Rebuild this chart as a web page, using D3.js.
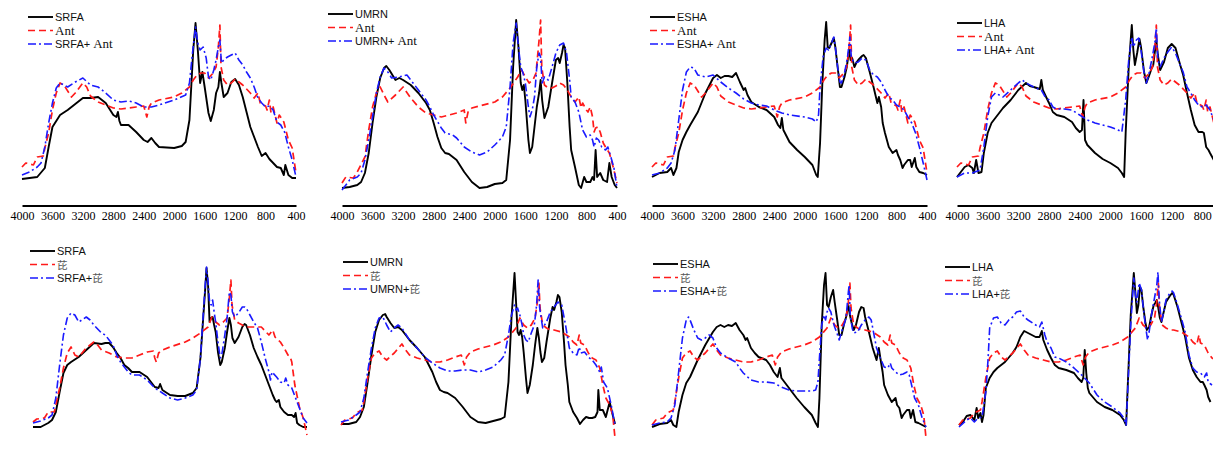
<!DOCTYPE html>
<html><head><meta charset="utf-8">
<script src="https://cdn.jsdelivr.net/npm/d3@7"></script>
<style>html,body{margin:0;padding:0;background:#fff;overflow:hidden}</style>
</head><body>
<svg id="c" width="1213" height="452"></svg>
<script>
// ---------------- DATA (wavenumber cm-1, absorbance a.u.) ----------------
const tickLabels = [4000,3600,3200,2800,2400,2000,1600,1200,800,400];

// top row: humic substance, Ant, humic + Ant
const srfaTop = [[4000,6],[3800,8],[3700,17],[3650,38],[3600,58],[3500,70],[3400,75],[3300,81],[3200,87],[3100,87],[3000,88],[2900,82],[2800,70],[2760,68],[2740,73],[2720,64],[2700,60],[2600,60],[2500,53],[2400,45],[2350,43],[2300,47],[2250,42],[2200,38],[2000,37],[1900,39],[1850,43],[1800,65],[1750,135],[1720,162],[1690,135],[1660,102],[1630,113],[1600,98],[1550,72],[1520,64],[1480,75],[1450,92],[1420,98],[1400,113],[1380,102],[1350,88],[1300,92],[1250,103],[1200,106],[1150,100],[1100,88],[1050,73],[1000,58],[900,38],[850,29],[800,32],[750,26],[700,22],[650,18],[600,17],[560,10],[540,20],[500,10],[450,7],[400,7]];
const antTop = [[4000,18],[3950,22],[3850,20],[3800,28],[3720,29],[3700,37],[3650,52],[3600,75],[3550,92],[3500,102],[3450,100],[3350,88],[3300,92],[3200,102],[3150,98],[3100,89],[3000,83],[2900,80],[2800,77],[2700,76],[2500,78],[2400,79],[2360,68],[2330,78],[2300,82],[2200,85],[2000,88],[1900,92],[1800,98],[1750,105],[1700,110],[1650,112],[1600,112],[1550,107],[1500,111],[1450,118],[1420,138],[1400,160],[1385,118],[1350,105],[1300,100],[1250,102],[1200,106],[1150,103],[1100,100],[1000,92],[950,87],[900,92],[870,82],[800,79],[780,75],[750,85],[730,73],[700,78],[650,62],[620,70],[560,63],[500,45],[450,37],[400,12]];
const srfaAntTop = [[4000,10],[3900,13],[3800,18],[3750,22],[3700,38],[3650,62],[3600,82],[3550,97],[3500,102],[3400,98],[3300,103],[3200,107],[3100,100],[3000,98],[2900,92],[2800,85],[2700,83],[2600,84],[2500,82],[2400,78],[2300,78],[2200,80],[2000,85],[1850,90],[1800,102],[1760,132],[1720,158],[1690,142],[1660,135],[1620,138],[1580,127],[1550,108],[1520,105],[1480,115],[1450,125],[1420,138],[1400,145],[1380,122],[1350,125],[1300,128],[1250,130],[1200,132],[1150,125],[1100,120],[1050,113],[1000,107],[950,98],[900,87],[850,82],[800,78],[750,79],[700,75],[650,63],[600,60],[550,53],[500,38],[450,25],[400,8]];

const umrnTop = [[4000,-3],[3900,-2],[3800,0],[3750,3],[3700,12],[3650,32],[3600,62],[3550,88],[3500,107],[3450,117],[3420,119],[3380,115],[3300,105],[3250,107],[3200,105],[3100,100],[3000,92],[2900,82],[2850,75],[2800,62],[2750,48],[2700,37],[2650,32],[2600,31],[2500,25],[2400,13],[2300,3],[2200,-3],[2100,-2],[2000,1],[1900,2],[1850,5],[1800,45],[1760,118],[1720,165],[1690,138],[1660,102],[1640,95],[1620,100],[1600,85],[1560,45],[1540,32],[1510,38],[1480,58],[1450,78],[1420,92],[1400,105],[1380,85],[1350,67],[1300,78],[1250,102],[1200,125],[1170,127],[1150,122],[1120,132],[1100,140],[1080,137],[1050,102],[1020,58],[1000,35],[950,18],[900,0],[870,-3],[830,8],[800,3],[750,3],[720,8],[700,5],[680,35],[660,8],[620,12],[580,5],[530,3],[500,22],[470,8],[430,0],[400,-3]];
const antTop2 = [[4000,2],[3950,8],[3850,7],[3800,13],[3700,28],[3650,55],[3600,78],[3550,92],[3500,98],[3450,90],[3400,83],[3300,90],[3200,98],[3100,87],[3000,78],[2900,72],[2800,70],[2700,68],[2600,70],[2500,72],[2400,75],[2380,62],[2350,73],[2300,77],[2200,79],[2000,83],[1900,88],[1800,97],[1700,108],[1650,115],[1600,108],[1550,102],[1500,105],[1460,112],[1420,145],[1400,165],[1385,118],[1350,100],[1300,97],[1250,97],[1200,99],[1150,102],[1100,100],[1050,95],[1000,88],[950,83],[900,88],[870,77],[850,82],[800,75],[780,73],[750,78],[720,68],[700,53],[680,57],[650,58],[620,53],[580,42],[550,38],[500,32],[450,18],[400,2]];
const umrnAntTop = [[4000,-5],[3900,5],[3800,8],[3750,12],[3700,25],[3650,45],[3600,68],[3550,92],[3500,108],[3450,117],[3400,113],[3350,107],[3250,108],[3150,110],[3100,105],[3000,95],[2900,85],[2850,78],[2800,70],[2700,57],[2650,52],[2550,50],[2500,47],[2400,38],[2300,33],[2200,30],[2100,33],[2000,40],[1900,48],[1850,58],[1800,98],[1760,142],[1720,162],[1690,138],[1660,118],[1630,112],[1600,102],[1560,78],[1540,68],[1510,75],[1480,88],[1450,118],[1420,132],[1400,128],[1380,102],[1350,108],[1300,105],[1250,118],[1200,132],[1150,140],[1100,142],[1060,132],[1020,105],[1000,88],[950,83],[900,73],[870,62],[850,55],[800,48],[750,50],[720,45],[700,38],[670,47],[640,45],[600,38],[550,35],[520,38],[480,28],[440,17],[400,-3]];

const eshaTop = [[4000,8],[3900,12],[3800,13],[3750,17],[3720,10],[3680,17],[3650,33],[3600,45],[3550,53],[3500,60],[3400,73],[3300,92],[3200,107],[3150,110],[3100,107],[3050,109],[3000,109],[2950,108],[2900,112],[2850,103],[2800,95],[2780,97],[2750,90],[2700,83],[2600,78],[2500,75],[2400,68],[2350,60],[2320,57],[2300,67],[2280,55],[2200,43],[2100,35],[2000,28],[1900,20],[1850,10],[1830,8],[1800,42],[1770,102],[1740,145],[1720,163],[1700,138],[1680,137],[1650,142],[1620,147],[1600,138],[1570,118],[1540,98],[1520,98],[1480,108],[1450,118],[1420,135],[1400,125],[1380,127],[1350,118],[1320,123],[1300,125],[1250,129],[1230,130],[1200,127],[1150,113],[1100,98],[1050,82],[1030,88],[1000,78],[980,62],[950,52],[900,38],[850,32],[800,35],[780,30],[750,25],[720,17],[700,20],[650,25],[620,25],[600,18],[560,27],[540,18],[500,13],[450,12],[400,10]];
const eshaAntTop = [[4000,10],[3900,12],[3800,17],[3750,22],[3700,35],[3650,65],[3600,95],[3550,113],[3500,118],[3450,117],[3400,110],[3300,108],[3200,110],[3100,103],[3000,97],[2900,92],[2800,86],[2700,82],[2600,80],[2500,79],[2400,75],[2300,72],[2200,70],[2000,68],[1900,66],[1850,63],[1820,70],[1800,98],[1760,128],[1720,137],[1690,135],[1650,142],[1620,148],[1600,138],[1570,118],[1540,103],[1520,102],[1480,112],[1440,128],[1410,148],[1390,127],[1350,122],[1300,123],[1250,127],[1200,125],[1150,115],[1100,110],[1050,108],[1000,103],[950,95],[900,88],[850,85],[800,80],[750,78],[700,75],[650,68],[600,62],[550,52],[500,38],[450,22],[400,5]];

const lhaTop = [[4000,8],[3900,18],[3850,20],[3800,17],[3780,12],[3750,25],[3720,12],[3680,13],[3650,32],[3600,52],[3550,62],[3500,67],[3400,77],[3300,85],[3200,95],[3100,102],[3050,99],[3000,98],[2920,96],[2900,105],[2880,95],[2850,90],[2800,82],[2750,73],[2700,70],[2600,68],[2500,63],[2450,57],[2400,53],[2370,55],[2350,85],[2330,45],[2300,40],[2200,32],[2100,26],[2000,22],[1900,17],[1850,12],[1820,8],[1800,52],[1760,118],[1720,160],[1700,135],[1680,120],[1650,132],[1620,146],[1600,138],[1560,113],[1530,102],[1500,108],[1460,117],[1440,120],[1400,145],[1380,130],[1350,115],[1300,123],[1250,137],[1200,141],[1150,137],[1100,123],[1050,110],[1000,92],[950,75],[900,60],[850,53],[800,53],[780,52],[750,38],[720,35],[700,32],[650,25]];
const lhaAntTop = [[4000,8],[3900,12],[3800,12],[3700,15],[3650,38],[3600,68],[3550,88],[3500,92],[3450,90],[3400,88],[3300,95],[3200,102],[3150,105],[3100,102],[3000,98],[2900,95],[2850,88],[2800,85],[2750,78],[2700,76],[2600,76],[2500,75],[2400,70],[2300,65],[2200,62],[2000,58],[1900,55],[1850,53],[1800,85],[1760,125],[1720,148],[1700,138],[1660,145],[1630,147],[1600,135],[1560,112],[1530,102],[1500,110],[1460,125],[1420,142],[1400,157],[1380,125],[1350,118],[1300,127],[1250,133],[1200,138],[1150,132],[1100,122],[1050,113],[1000,98],[950,92],[900,85],[850,80],[800,78],[750,80],[700,75],[650,65]];

// bottom row: humic substance, 芘 (pyrene), humic + 芘
const srfaBot = [[4000,5],[3900,5],[3800,9],[3750,12],[3700,20],[3650,40],[3600,59],[3550,67],[3500,70],[3400,75],[3300,82],[3200,89],[3100,88],[3050,89],[3000,89],[2950,85],[2900,79],[2850,74],[2800,67],[2750,64],[2700,60],[2600,60],[2500,55],[2450,50],[2400,45],[2350,44],[2330,48],[2300,42],[2200,37],[2100,36],[2000,36],[1900,39],[1850,44],[1800,74],[1770,107],[1740,140],[1720,164],[1700,147],[1680,110],[1660,114],[1640,115],[1620,107],[1600,100],[1570,80],[1540,67],[1520,70],[1480,84],[1450,100],[1420,114],[1400,107],[1380,94],[1350,89],[1300,95],[1250,105],[1220,108],[1200,107],[1150,97],[1100,84],[1050,75],[1000,67],[950,57],[900,47],[850,37],[820,32],[800,30],[770,32],[750,25],[700,20],[650,17],[600,17],[570,15],[550,19],[530,9],[500,7],[450,5],[400,5]];
const pyr5 = [[4000,10],[3950,13],[3850,14],[3800,20],[3720,20],[3700,27],[3650,44],[3600,64],[3550,79],[3500,85],[3450,77],[3400,75],[3300,84],[3200,90],[3150,87],[3100,82],[3000,79],[2900,75],[2800,74],[2700,74],[2600,77],[2500,80],[2420,81],[2400,74],[2380,70],[2350,79],[2300,82],[2200,85],[2000,90],[1900,94],[1800,99],[1700,105],[1650,115],[1600,110],[1550,107],[1500,110],[1450,114],[1420,134],[1400,152],[1385,127],[1350,112],[1300,109],[1250,107],[1200,105],[1100,105],[1000,105],[900,97],[850,102],[820,95],[750,90],[700,84],[650,77],[620,75],[600,70],[560,47],[500,25],[450,14],[400,-3]];
const srfaPyr = [[4000,9],[3900,11],[3800,14],[3750,17],[3700,34],[3650,67],[3600,97],[3550,114],[3500,119],[3450,117],[3400,110],[3300,115],[3250,112],[3200,107],[3100,99],[3050,97],[3000,92],[2950,87],[2900,77],[2850,70],[2800,65],[2750,60],[2700,57],[2600,57],[2500,52],[2400,44],[2300,39],[2200,34],[2100,32],[2000,34],[1900,37],[1850,42],[1800,74],[1770,110],[1740,144],[1720,165],[1700,150],[1680,130],[1660,127],[1640,132],[1620,120],[1600,110],[1570,90],[1540,74],[1520,77],[1480,97],[1450,114],[1420,140],[1400,137],[1380,120],[1350,115],[1300,119],[1250,125],[1220,125],[1200,124],[1150,117],[1100,110],[1050,104],[1000,90],[950,74],[900,60],[880,52],[860,60],[800,55],[750,50],[700,49],[680,54],[650,47],[600,44],[550,34],[500,24],[450,14],[400,9]];

const umrnBot = [[4000,8],[3900,8],[3800,10],[3750,15],[3700,25],[3650,50],[3600,77],[3550,100],[3500,112],[3450,117],[3420,118],[3400,115],[3350,109],[3300,104],[3250,105],[3200,102],[3100,92],[3000,84],[2900,75],[2800,60],[2750,50],[2700,42],[2650,40],[2600,39],[2500,34],[2400,25],[2300,15],[2200,10],[2100,9],[2000,11],[1900,13],[1850,15],[1800,50],[1760,114],[1720,159],[1700,130],[1680,100],[1660,97],[1640,102],[1620,95],[1600,80],[1570,54],[1550,39],[1520,47],[1480,67],[1450,87],[1420,104],[1400,94],[1380,80],[1360,70],[1330,74],[1300,90],[1250,114],[1220,125],[1200,122],[1170,130],[1150,137],[1130,135],[1100,120],[1070,90],[1050,67],[1020,47],[1000,30],[950,20],[900,14],[860,8],[820,12],[780,15],[740,14],[700,14],[660,15],[630,20],[619,42],[600,22],[560,22],[520,15],[470,30],[440,20],[400,8]];
const pyr = [[4000,7],[3950,12],[3850,14],[3800,19],[3720,22],[3700,30],[3650,54],[3600,74],[3550,79],[3500,81],[3450,75],[3400,72],[3300,79],[3200,88],[3150,82],[3100,77],[3000,74],[2900,72],[2800,70],[2700,70],[2600,72],[2500,75],[2420,77],[2400,72],[2380,67],[2350,75],[2300,80],[2200,83],[2000,87],[1900,90],[1800,95],[1700,104],[1650,114],[1600,107],[1550,104],[1500,107],[1450,114],[1420,130],[1400,149],[1385,124],[1350,107],[1300,104],[1250,102],[1200,102],[1100,100],[1000,95],[950,90],[900,87],[870,97],[850,89],[800,87],[750,79],[700,74],[650,72],[600,64],[560,47],[520,34],[470,27],[430,17],[400,-6]];
const umrnPyr = [[4000,10],[3900,12],[3800,17],[3750,20],[3700,34],[3650,60],[3600,84],[3550,104],[3500,114],[3450,115],[3400,107],[3350,100],[3300,104],[3250,107],[3200,104],[3100,92],[3000,84],[2900,75],[2800,69],[2700,64],[2600,61],[2500,61],[2400,62],[2300,62],[2200,60],[2100,62],[2000,65],[1900,72],[1850,77],[1800,97],[1760,117],[1720,127],[1700,122],[1680,124],[1650,117],[1620,107],[1600,97],[1570,92],[1540,90],[1500,99],[1460,107],[1430,127],[1410,152],[1390,124],[1350,104],[1300,110],[1250,120],[1200,125],[1150,130],[1100,127],[1050,107],[1000,84],[950,79],[900,77],[870,85],[850,79],[800,80],[750,75],[700,72],[650,67],[600,60],[580,65],[550,50],[500,44],[450,27],[400,7]];

const eshaBot = [[4000,5],[3900,8],[3800,9],[3750,12],[3720,7],[3680,5],[3650,20],[3600,37],[3550,49],[3500,55],[3400,72],[3300,87],[3200,100],[3150,105],[3100,107],[3050,105],[3000,107],[2950,106],[2900,109],[2850,102],[2800,97],[2770,92],[2750,94],[2700,84],[2650,79],[2600,75],[2500,72],[2450,67],[2400,60],[2350,55],[2320,64],[2300,54],[2200,44],[2100,34],[2000,25],[1900,17],[1850,9],[1820,5],[1800,34],[1770,107],[1740,147],[1720,159],[1700,127],[1680,125],[1650,135],[1620,142],[1600,130],[1570,114],[1540,97],[1510,97],[1480,107],[1450,115],[1420,127],[1400,117],[1380,110],[1350,102],[1320,107],[1280,120],[1250,125],[1220,124],[1200,115],[1150,100],[1100,84],[1050,72],[1020,84],[1000,74],[970,60],[950,47],[900,37],[850,30],[800,34],[780,27],[750,24],[720,14],[700,17],[650,22],[620,22],[600,14],[570,22],[540,10],[500,9],[450,7],[400,5]];
const eshaPyr = [[4000,7],[3900,9],[3800,10],[3750,14],[3700,27],[3650,60],[3600,94],[3550,112],[3520,115],[3500,112],[3450,102],[3400,94],[3350,92],[3300,94],[3250,97],[3200,94],[3150,84],[3100,79],[3000,74],[2900,70],[2850,64],[2800,59],[2700,52],[2600,50],[2500,50],[2400,49],[2300,45],[2200,42],[2100,41],[2000,41],[1900,41],[1850,42],[1820,50],[1800,74],[1770,107],[1740,117],[1720,112],[1700,120],[1680,124],[1650,120],[1620,110],[1600,105],[1570,99],[1540,92],[1510,100],[1480,107],[1450,114],[1420,140],[1410,147],[1395,117],[1370,104],[1350,99],[1300,100],[1250,107],[1200,112],[1150,115],[1120,112],[1100,104],[1050,84],[1000,74],[950,65],[900,64],[870,69],[850,64],[800,60],[750,57],[700,58],[650,60],[620,57],[580,44],[550,34],[500,27],[450,14],[400,5]];

const lhaBot = [[4000,7],[3950,10],[3900,16],[3850,17],[3800,12],[3770,24],[3750,14],[3720,19],[3700,10],[3680,17],[3650,44],[3600,54],[3550,60],[3500,64],[3400,70],[3300,79],[3250,85],[3200,95],[3150,101],[3100,99],[3050,97],[3000,95],[2950,95],[2920,101],[2900,92],[2850,82],[2800,74],[2750,67],[2700,64],[2600,62],[2500,59],[2450,54],[2400,50],[2380,54],[2360,82],[2340,59],[2320,44],[2300,39],[2200,30],[2100,25],[2000,22],[1900,17],[1850,12],[1820,7],[1800,44],[1760,117],[1720,159],[1700,140],[1680,119],[1660,127],[1640,145],[1620,142],[1600,127],[1570,110],[1550,102],[1520,105],[1490,117],[1460,127],[1440,129],[1420,132],[1400,124],[1380,114],[1360,110],[1330,120],[1300,130],[1250,136],[1220,139],[1200,137],[1150,125],[1100,110],[1050,95],[1000,74],[950,62],[900,55],[850,50],[820,50],[800,47],[770,42],[750,35],[720,30]];
const lhaPyr = [[4000,5],[3900,12],[3850,14],[3800,10],[3750,14],[3700,15],[3650,40],[3620,74],[3600,104],[3550,114],[3500,115],[3450,109],[3400,107],[3350,112],[3300,115],[3250,120],[3200,121],[3150,115],[3100,112],[3000,107],[2950,105],[2920,110],[2880,97],[2850,90],[2800,84],[2750,75],[2700,74],[2600,70],[2500,64],[2400,57],[2300,49],[2200,37],[2100,30],[2000,25],[1900,19],[1850,14],[1820,7],[1800,40],[1760,107],[1720,154],[1700,137],[1680,130],[1650,149],[1620,142],[1600,127],[1570,107],[1540,92],[1520,100],[1490,117],[1450,134],[1420,147],[1405,160],[1390,134],[1360,110],[1330,120],[1300,132],[1250,139],[1220,141],[1200,139],[1150,127],[1100,114],[1050,100],[1000,77],[950,64],[900,60],[850,59],[800,55],[770,59],[750,50],[700,47]];

// panel labels
const hsNames = ["SRFA","UMRN","ESHA","LHA"];
const pahNames = ["Ant","芘"];

// ---------------- LAYOUT ----------------
const W = 1213;
const svg = d3.select("#c");
const panels = [
  {row:0, hs:0, x:[22,296],  y:[185,20],  lg:[28,17],  data:[srfaTop, antTop,  srfaAntTop]},
  {row:0, hs:1, x:[342,617], y:[185,20],  lg:[328,14], data:[umrnTop, antTop2, umrnAntTop]},
  {row:0, hs:2, x:[652,927], y:[185,20],  lg:[650,17], data:[eshaTop, antTop,  eshaAntTop]},
  {row:0, hs:3, x:[957,1233],y:[185,20],  lg:[957,23], data:[lhaTop,  antTop,  lhaAntTop]},
  {row:1, hs:0, x:[33,307],  y:[432,267], lg:[30,251], data:[srfaBot, pyr5,    srfaPyr]},
  {row:1, hs:1, x:[341,615], y:[432,267], lg:[343,262],data:[umrnBot, pyr,     umrnPyr]},
  {row:1, hs:2, x:[652,926], y:[432,267], lg:[653,264],data:[eshaBot, pyr,     eshaPyr]},
  {row:1, hs:3, x:[959,1235],y:[432,267], lg:[945,267],data:[lhaBot,  pyr,     lhaPyr]}
];
const styles = [
  {stroke:"#000", width:1.9, dash:null},
  {stroke:"#ff1a1a", width:1.7, dash:"7,4"},
  {stroke:"#1a1aff", width:1.6, dash:"8,3,2,3"}
];
const sans = "'Liberation Sans', Arial, sans-serif";
const serif = "'Liberation Serif', 'Times New Roman', serif";
const cjk = "'Noto Sans CJK SC', sans-serif";

panels.forEach(p => {
  const x = d3.scaleLinear().domain([4000,400]).range(p.x);
  const y = d3.scaleLinear().domain([0,165]).range(p.y);
  const g = svg.append("g");
  const line = d3.line().x(d => x(d[0])).y(d => y(d[1])).curve(d3.curveLinear);
  [0,1,2].forEach(i => {
    g.append("path").datum(p.data[i])
      .attr("fill","none").attr("stroke",styles[i].stroke)
      .attr("stroke-width",styles[i].width)
      .attr("stroke-dasharray",styles[i].dash)
      .attr("stroke-linejoin","round")
      .attr("d",line);
  });
  if (p.row === 0) {
    // only labels that fit inside the picture (the reference is cropped at the right)
    const vis = tickLabels.filter(v => x(v) + 9 <= W);
    const ax = svg.append("g").attr("transform","translate(0,205.5)")
      .call(d3.axisBottom(x).tickValues(vis).tickSize(0).tickPadding(6).tickFormat(d3.format("d")));
    ax.select(".domain").attr("stroke","#000").attr("stroke-width",2.2);
    ax.selectAll("text").attr("font-family",serif).attr("font-size",12).attr("fill","#000");
  }
  // legend
  const hs = hsNames[p.hs], pah = pahNames[p.row];
  const lg = svg.append("g").attr("transform",`translate(${p.lg[0]},${p.lg[1]})`);
  [0,1,2].forEach(i => {
    const yy = i * 13.5;
    lg.append("line").attr("x1",0).attr("x2",25).attr("y1",yy).attr("y2",yy)
      .attr("stroke",styles[i].stroke).attr("stroke-width",styles[i].width)
      .attr("stroke-dasharray",styles[i].dash);
    const t = lg.append("text").attr("x",27).attr("y",yy+4).attr("font-size",11).attr("fill","#111");
    const pahFont = p.row === 0 ? serif : cjk;
    const pahSize = p.row === 0 ? 13 : 10.5;
    const pahFill = p.row === 0 ? "#111" : "#555";
    if (i === 0) t.append("tspan").attr("font-family",sans).text(hs);
    else if (i === 1) t.append("tspan").attr("font-family",pahFont).attr("font-size",pahSize).attr("fill",pahFill).text(pah);
    else {
      t.append("tspan").attr("font-family",sans).text(hs + (p.row === 0 ? "+ " : "+"));
      t.append("tspan").attr("font-family",pahFont).attr("font-size",pahSize).attr("fill",pahFill).text(pah);
    }
  });
});
</script>
</body></html>
